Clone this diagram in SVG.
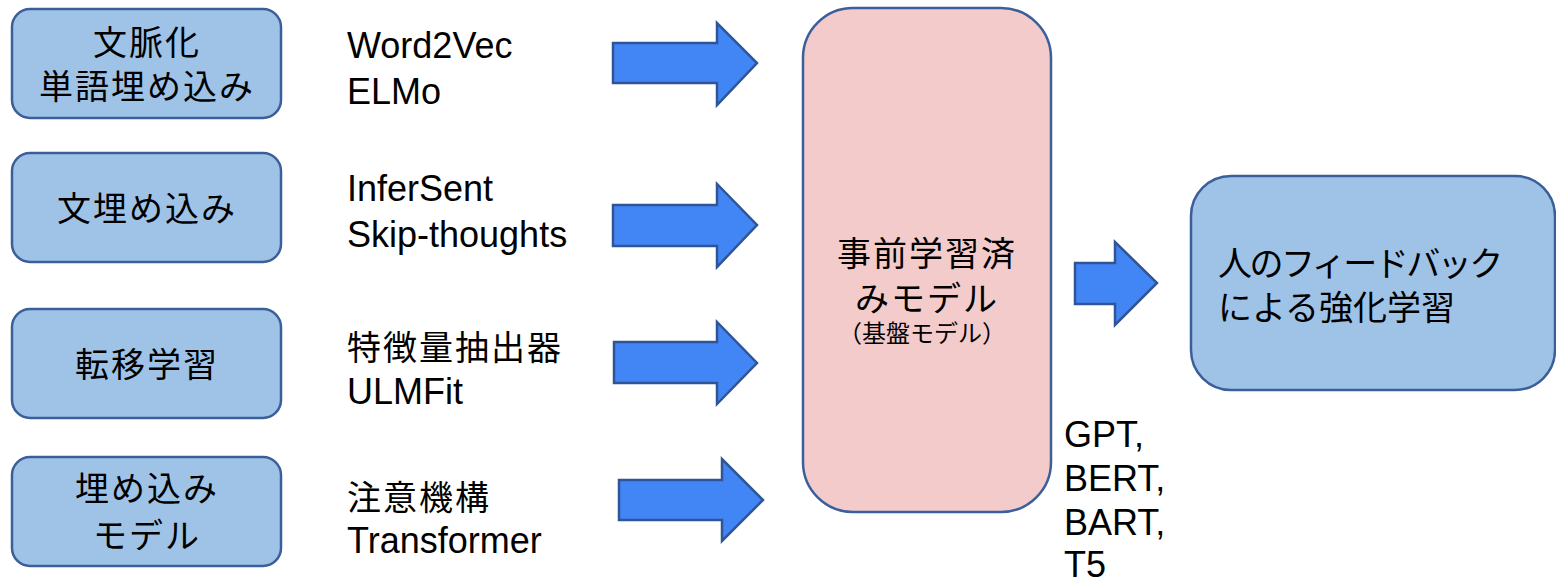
<svg xmlns="http://www.w3.org/2000/svg" width="1556" height="579" viewBox="0 0 1556 579">
<style>
.box{fill:#9fc3e7;stroke:#3b5f9a;stroke-width:2.5}
.core{fill:#f4cbcb;stroke:#3b5f9a;stroke-width:2.5}
.arr{fill:#4285f4;stroke:#2f5597;stroke-width:2.5;stroke-linejoin:miter}
.jp{font-family:"Noto Sans CJK JP","Liberation Sans",sans-serif;font-size:34px;fill:#000;letter-spacing:2px}
.jc{text-anchor:middle}
.lat{font-family:"Liberation Sans","Noto Sans CJK JP",sans-serif;font-size:36px;fill:#000}
.sm{font-size:24px;letter-spacing:0px}
</style>
<rect width="1556" height="579" fill="#ffffff"/>
<g id="n1"><rect class="box" x="12" y="9" width="269" height="109" rx="18"/>
<text class="jp jc" x="147" y="55">文脈化</text><text class="jp jc" x="147" y="99">単語埋め込み</text></g>
<g id="n2"><rect class="box" x="12" y="153" width="269" height="109" rx="18"/>
<text class="jp jc" x="147" y="221">文埋め込み</text></g>
<g id="n3"><rect class="box" x="12" y="309" width="269" height="109" rx="18"/>
<text class="jp jc" x="147" y="377">転移学習</text></g>
<g id="n4"><rect class="box" x="12" y="457" width="269" height="109" rx="18"/>
<text class="jp jc" x="147" y="501">埋め込み</text><text class="jp jc" x="147" y="548">モデル</text></g>
<g id="l1"><text class="lat" x="347" y="58">Word2Vec</text><text class="lat" x="347" y="104">ELMo</text></g>
<g id="l2"><text class="lat" x="347" y="201">InferSent</text><text class="lat" x="347" y="247">Skip-thoughts</text></g>
<g id="l3"><text class="jp" x="347" y="360">特徴量抽出器</text><text class="lat" x="347" y="404">ULMFit</text></g>
<g id="l4"><text class="jp" x="347" y="510">注意機構</text><text class="lat" x="347" y="553">Transformer</text></g>
<g id="core"><rect class="core" x="803" y="8" width="248" height="504" rx="50"/>
<text class="jp jc" x="927" y="266">事前学習済</text><text class="jp jc" x="927" y="311">みモデル</text>
<text class="jp jc sm" x="922" y="342">（基盤モデル）</text></g>
<g id="rlhf"><rect class="box" x="1191" y="176" width="364" height="214" rx="40"/>
<text class="jp" x="1218" y="276" style="letter-spacing:-2.5px">人のフィードバック</text><text class="jp" x="1218" y="320" style="letter-spacing:0px">による強化学習</text></g>
<g id="models"><text class="lat" x="1064" y="447">GPT,</text><text class="lat" x="1064" y="491">BERT,</text><text class="lat" x="1064" y="535">BART,</text><text class="lat" x="1064" y="577">T5</text></g>
<g id="connectors">
<polygon class="arr" points="613,43 717,43 717,23 757,63 717,105 717,83 613,83"/>
<polygon class="arr" points="613,205 717,205 717,184 757,225 717,267 717,246 613,246"/>
<polygon class="arr" points="614,342 717,342 717,322 757,363 717,404 717,383 614,383"/>
<polygon class="arr" points="619,480 722,480 722,459 763,500 722,541 722,520 619,520"/>
<polygon class="arr" points="1075,263 1115,263 1115,242 1157,283 1115,325 1115,304 1075,304"/>
</g>
</svg>
